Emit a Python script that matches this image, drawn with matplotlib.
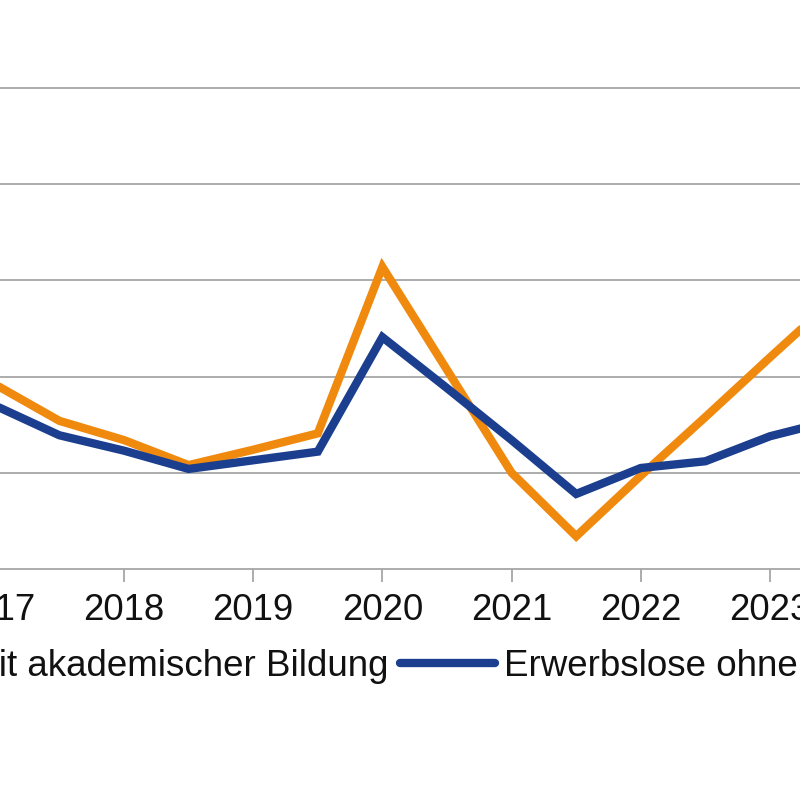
import matplotlib
matplotlib.use("Agg")
import matplotlib.pyplot as plt

plt.rcParams['font.family'] = ['Liberation Sans', 'DejaVu Sans']

# Half-year points
periods = [2017.0, 2017.5, 2018.0, 2018.5, 2019.0, 2019.5, 2020.0,
           2020.5, 2021.0, 2021.5, 2022.0, 2022.5, 2023.0, 2023.5]
mit_akad = [1.92, 1.54, 1.34, 1.08, 1.24, 1.41, 3.14,
            2.07, 1.00, 0.34, 0.97, 1.58, 2.20, 2.81]
ohne_akad = [1.70, 1.39, 1.23, 1.04, 1.13, 1.22, 2.41,
             1.88, 1.34, 0.78, 1.05, 1.12, 1.38, 1.55]
year_ticks = [2017, 2018, 2019, 2020, 2021, 2022, 2023, 2024]
year_labels = ["2017", "2018", "2019", "2020", "2021", "2022", "2023", "2024"]
grid_vals = [1, 2, 3, 4, 5, 6]
series_names = ["Erwerbslose mit akademischer Bildung",
                "Erwerbslose ohne akademische Bildung"]

ORANGE = "#F08A0E"
BLUE = "#1B3F8E"
GRID = "#a6a6a6"
TEXT = "#111111"

W = H = 800
fig = plt.figure(figsize=(8, 8), dpi=100)
fig.patch.set_facecolor("white")

# axes placed so that the figure shows a cropped part of the chart
x_left_px = 124 - 1.5 * 129.2
x_right_px = 124 + 6.5 * 129.2
y_bottom_px = 569
y_top_px = 569 - 6 * 96.2
ax = fig.add_axes([x_left_px / W, (H - y_bottom_px) / H,
                   (x_right_px - x_left_px) / W, (y_bottom_px - y_top_px) / H])
ax.set_xlim(2016.5, 2024.5)
ax.set_ylim(0, 6)

for v in grid_vals:
    ax.axhline(v, color=GRID, lw=1.3, zorder=1)

l1, = ax.plot(periods, mit_akad, color=ORANGE, lw=6, solid_joinstyle='miter',
              solid_capstyle='round', zorder=3, label=series_names[0])
l2, = ax.plot(periods, ohne_akad, color=BLUE, lw=6, solid_joinstyle='miter',
              solid_capstyle='round', zorder=3, label=series_names[1])

for s in ["left", "right", "top"]:
    ax.spines[s].set_visible(False)
ax.spines["bottom"].set_color(GRID)
ax.spines["bottom"].set_linewidth(1.3)
ax.set_yticks([])
ax.set_xticks(year_ticks)
ax.set_xticklabels(year_labels)
ax.tick_params(axis='x', direction='out', length=9, width=1.3, color=GRID,
               labelsize=26.3, labelcolor=TEXT, pad=8)

leg = ax.legend(handles=[l1, l2], ncol=2, frameon=False, fontsize=26.45,
                loc='center left', bbox_to_anchor=(0, 0),
                bbox_transform=fig.transFigure,
                handlelength=2.57, handletextpad=0.25, columnspacing=0.33,
                borderpad=0, borderaxespad=0)
for t in leg.get_texts():
    t.set_color(TEXT)

# align the legend so the second label starts where it does in the reference
fig.canvas.draw()
r = fig.canvas.get_renderer()
bb = leg.get_texts()[1].get_window_extent(r)
target_x = 504
target_yc = H - 666
dx = target_x - bb.x0
dy = target_yc - (bb.y0 + bb.y1) / 2
leg.set_bbox_to_anchor((dx / W, dy / H), transform=fig.transFigure)

fig.savefig("out.png", dpi=100, facecolor="white")
